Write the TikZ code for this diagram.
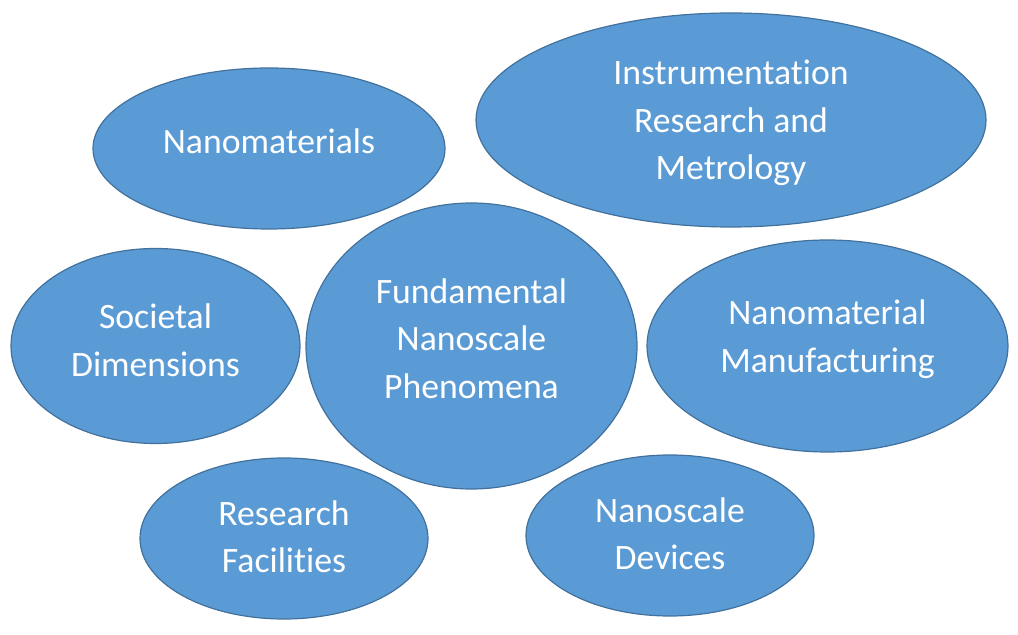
\documentclass[tikz,border=0pt]{standalone}
\usepackage{fontspec}
\setmainfont{Carlito}[Ligatures={NoCommon}]
\usepackage{tikz}
\usetikzlibrary{shapes.geometric,positioning}
\definecolor{blobfill}{HTML}{5B9BD5}
\definecolor{blobline}{HTML}{41719C}
\tikzset{blob/.style={ellipse,draw=blobline,fill=blobfill,line width=0.6pt,
  text=white,align=center,inner sep=0pt,
  font=\fontsize{17.85}{23.75}\selectfont}}

\begin{document}
\begin{tikzpicture}[x=0.5pt,y=-0.5pt,on grid]
\useasboundingbox (0,0) rectangle (1018,635);
\node[blob,minimum width=165.5pt,minimum height=143pt,text depth=7.5pt] (fund) at (471.5,346)
  {Fundamental\\Nanoscale\\Phenomena};
\node[blob,minimum width=176pt,minimum height=80.5pt,text depth=7pt] (nanomat)
  [above left=98.75pt and 101.25pt of fund] {Nanomaterials};
\node[blob,minimum width=255pt,minimum height=107pt,text depth=-1.4pt] (instr)
  [above right=113pt and 129.75pt of fund] {Instrumentation\\Research and\\Metrology};
\node[blob,minimum width=144.5pt,minimum height=97.5pt,text depth=6pt] (soc)
  [left=158pt of fund] {Societal\\Dimensions};
\node[blob,minimum width=180.5pt,minimum height=106pt,text depth=10.1pt] (manuf)
  [right=178pt of fund] {Nanomaterial\\Manufacturing};
\node[blob,minimum width=144pt,minimum height=80.5pt,text depth=2pt] (facil)
  [below left=96.25pt and 93.75pt of fund] {Research\\Facilities};
\node[blob,minimum width=144pt,minimum height=80.5pt,text depth=2pt] (dev)
  [below right=94.75pt and 99.25pt of fund] {Nanoscale\\Devices};
\end{tikzpicture}
\end{document}
